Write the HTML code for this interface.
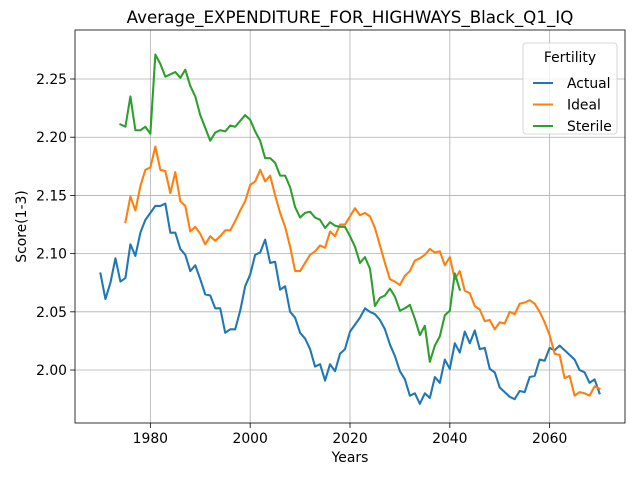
<!DOCTYPE html>
<html><head><meta charset="utf-8"><style>
body{margin:0;background:#fff;font-family:"Liberation Sans","DejaVu Sans",sans-serif;}
svg text{font-family:"DejaVu Sans","Liberation Sans",sans-serif;}
</style></head><body>
<svg id="chart" width="640" height="480" xmlns="http://www.w3.org/2000/svg"></svg>
<script>
const actualYears=[1970,2070];
const actual=[2.083,2.061,2.075,2.096,2.076,2.079,2.108,2.098,2.118,2.129,2.135,2.141,2.141,2.143,2.118,2.118,2.104,2.099,2.085,2.090,2.078,2.065,2.064,2.053,2.053,2.032,2.035,2.035,2.051,2.072,2.082,2.099,2.101,2.112,2.092,2.093,2.069,2.072,2.050,2.045,2.032,2.027,2.018,2.003,2.005,1.991,2.005,1.999,2.014,2.018,2.033,2.039,2.045,2.053,2.050,2.048,2.043,2.035,2.022,2.012,1.999,1.992,1.978,1.980,1.971,1.980,1.976,1.994,1.989,2.009,2.001,2.023,2.015,2.033,2.023,2.034,2.018,2.019,2.001,1.998,1.985,1.981,1.977,1.975,1.982,1.981,1.994,1.995,2.009,2.008,2.019,2.017,2.021,2.017,2.013,2.009,2.000,1.998,1.989,1.992,1.980];
const idealStart=1975;
const ideal=[2.127,2.149,2.137,2.158,2.172,2.174,2.192,2.172,2.171,2.152,2.170,2.145,2.141,2.119,2.123,2.117,2.108,2.115,2.111,2.115,2.120,2.120,2.128,2.137,2.145,2.159,2.162,2.172,2.162,2.167,2.150,2.135,2.123,2.106,2.085,2.085,2.092,2.099,2.102,2.107,2.105,2.119,2.115,2.125,2.125,2.132,2.139,2.133,2.135,2.132,2.122,2.107,2.092,2.078,2.076,2.073,2.081,2.085,2.094,2.096,2.099,2.104,2.101,2.102,2.090,2.097,2.078,2.085,2.068,2.066,2.055,2.052,2.042,2.043,2.035,2.041,2.040,2.050,2.048,2.057,2.058,2.060,2.057,2.050,2.041,2.030,2.014,2.013,1.993,1.995,1.978,1.981,1.980,1.978,1.986,1.984];
const sterileStart=1974;
const sterile=[2.211,2.209,2.235,2.206,2.206,2.209,2.203,2.271,2.263,2.252,2.254,2.256,2.251,2.258,2.244,2.235,2.219,2.208,2.197,2.204,2.206,2.205,2.210,2.209,2.214,2.219,2.215,2.205,2.197,2.182,2.182,2.178,2.167,2.167,2.157,2.140,2.131,2.135,2.136,2.131,2.129,2.122,2.127,2.124,2.123,2.123,2.115,2.106,2.092,2.097,2.087,2.055,2.062,2.064,2.070,2.063,2.051,2.053,2.056,2.044,2.030,2.038,2.007,2.021,2.029,2.047,2.051,2.083,2.069];
const xTicks=[1980,2000,2020,2040,2060];
const yTicks=[2.00,2.05,2.10,2.15,2.20,2.25];
const seriesNames=["Actual","Ideal","Sterile"];
const colors=["#1f77b4","#ff7f0e","#2ca02c"];

const L=75,R=625,T=30,B=423;
const xMin=1964.9,xMax=2075.1,yMin=1.9545,yMax=2.2921;
const sx=v=>L+(v-xMin)/(xMax-xMin)*(R-L);
const sy=v=>B-(v-yMin)/(yMax-yMin)*(B-T);
const svg=document.getElementById('chart');
const NS="http://www.w3.org/2000/svg";
function mk(tag,attrs,parent){const e=document.createElementNS(NS,tag);for(const k in attrs)e.setAttribute(k,attrs[k]);(parent||svg).appendChild(e);return e;}
function txt(s,attrs){const e=mk('text',attrs);e.textContent=s;return e;}
const FS=13.9;

const grid=mk('g',{});


xTicks.forEach(t=>{
  const g=mk('line',{x1:sx(t),x2:sx(t),y1:T,y2:B,stroke:'#b0b0b0','stroke-width':0.8},grid);
  
  
  const tk=mk('line',{x1:sx(t),x2:sx(t),y1:B,y2:B+4.9,stroke:'#000','stroke-width':0.8});
  
  
  const lb=txt(String(t),{x:sx(t),y:B+20,'text-anchor':'middle','font-size':FS});
  
  
});
yTicks.forEach(t=>{
  const g=mk('line',{x1:L,x2:R,y1:sy(t),y2:sy(t),stroke:'#b0b0b0','stroke-width':0.8},grid);
  
  
  const tk=mk('line',{x1:L-4.9,x2:L,y1:sy(t),y2:sy(t),stroke:'#000','stroke-width':0.8});
  
  
  const lb=txt(t.toFixed(2),{x:L-8,y:sy(t)+5,'text-anchor':'end','font-size':FS});
  
  
});

function drawSeries(vals,start,color,name){
  const pts=vals.map((v,i)=>sx(start+i).toFixed(2)+','+sy(v).toFixed(2)).join(' ');
  const p=mk('polyline',{points:pts,fill:'none',stroke:color,'stroke-width':2.08,'stroke-linejoin':'round','stroke-linecap':'square'});
  
  
}
drawSeries(actual,actualYears[0],colors[0],'Actual');
drawSeries(ideal,idealStart,colors[1],'Ideal');
drawSeries(sterile,sterileStart,colors[2],'Sterile');

const frame=mk('rect',{x:L,y:T,width:R-L,height:B-T,fill:'none',stroke:'#000','stroke-width':0.8});



const title=txt('Average_EXPENDITURE_FOR_HIGHWAYS_Black_Q1_IQ',{x:(L+R)/2,y:T-7,'text-anchor':'middle','font-size':16.7});


const xt=txt('Years',{x:(L+R)/2,y:462,'text-anchor':'middle','font-size':FS});


const yt=txt('Score(1-3)',{x:0,y:0,'text-anchor':'middle','font-size':FS,transform:'translate(26,'+((T+B)/2)+') rotate(-90)'});



const leg=mk('g',{});


mk('rect',{x:523,y:43,width:94,height:91,rx:3,fill:'#fff','fill-opacity':0.8,stroke:'#ccc','stroke-width':0.8},leg);
const lt=mk('text',{x:570,y:62,'text-anchor':'middle','font-size':FS},leg);
lt.textContent='Fertility';


seriesNames.forEach((n,i)=>{
  const y=83+i*21.5;
  const e=mk('g',{},leg);
  
  
  mk('line',{x1:533,x2:553,y1:y,y2:y,stroke:colors[i],'stroke-width':2.08},e);
  const t=mk('text',{x:567,y:y+5,'font-size':FS},e);
  t.textContent=n;
});
</script>
</body></html>
